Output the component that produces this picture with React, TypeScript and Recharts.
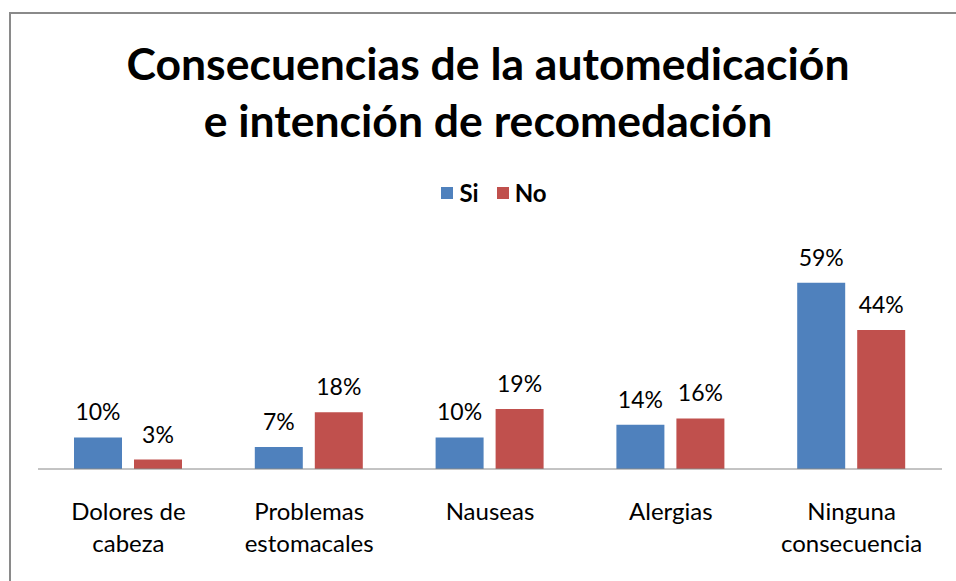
import { BarChart, Bar, XAxis, YAxis, LabelList } from 'recharts';

const categories = [
  ['Dolores de', 'cabeza'],
  ['Problemas', 'estomacales'],
  ['Nauseas'],
  ['Alergias'],
  ['Ninguna', 'consecuencia'],
];
const siValues = [10, 7, 10, 14, 59];
const noValues = [3, 18, 19, 16, 44];
const seriesNames = ['Si', 'No'];
const titleLines = ['Consecuencias de la automedicación', 'e intención de recomedación'];

const data = categories.map((c, i) => ({ name: c.join(' '), si: siValues[i], no: noValues[i] }));

const FONT = 'Lato, "Open Sans", sans-serif';
const COLORS = ['#4F81BD', '#C0504D'];

const CategoryTick = (props: any) => {
  const { x, y, index } = props;
  const lines = categories[index] || [];
  return (
    <text x={x} y={y} textAnchor="middle" fontFamily={FONT} fontSize={24} fill="#000">
      {lines.map((l, i) => (
        <tspan key={i} x={x} dy={i === 0 ? 51 : 32}>{l}</tspan>
      ))}
    </text>
  );
};

const labelStyle = { fontFamily: FONT, fontSize: 23, fill: '#000' };

export default function App() {
  return (
    <div style={{ position: 'absolute', left: 0, top: 0, width: 956, height: 581, background: '#fff', overflow: 'hidden' }}>
      <div style={{ position: 'absolute', left: 9, top: 12, width: 960, height: 600, border: '2px solid #8a8a8a', boxSizing: 'border-box' }} />
      <div style={{ position: 'absolute', left: 0, top: 34, width: 976, textAlign: 'center', fontFamily: FONT, fontWeight: 700, fontSize: 44.5, lineHeight: '57px', color: '#000' }}>
        {titleLines.map((t) => <div key={t}>{t}</div>)}
      </div>
      {/* legend */}
      <div style={{ position: 'absolute', left: 0, top: 178, width: 956, display: 'flex', justifyContent: 'center', paddingLeft: 32, boxSizing: 'border-box', fontFamily: FONT, fontWeight: 700, fontSize: 24, color: '#000' }}>
        {seriesNames.map((s, i) => (
          <span key={s} style={{ display: 'flex', alignItems: 'center', marginRight: i === 0 ? 18 : 0 }}>
            <span style={{ width: 12, height: 12, background: COLORS[i], marginRight: 6 }} />{s}
          </span>
        ))}
      </div>
      <div style={{ position: 'absolute', left: 0, top: 0 }}>
        <BarChart width={956} height={581} data={data} margin={{ top: 248, right: 14, left: 38, bottom: 0 }} barGap={12} barCategoryGap={36}>
          <XAxis dataKey="name" height={112} tickLine={false} tickSize={0} tickMargin={0} interval={0} stroke="#888" tick={<CategoryTick />} />
          <YAxis hide domain={[0, 70]} allowDataOverflow />
          <Bar dataKey="si" name={seriesNames[0]} fill={COLORS[0]} isAnimationActive={false}>
            <LabelList dataKey="si" position="top" offset={17} formatter={(v: any) => `${v}%`} style={labelStyle} />
          </Bar>
          <Bar dataKey="no" name={seriesNames[1]} fill={COLORS[1]} isAnimationActive={false}>
            <LabelList dataKey="no" position="top" offset={17} formatter={(v: any) => `${v}%`} style={labelStyle} />
          </Bar>
        </BarChart>
      </div>
    </div>
  );
}
